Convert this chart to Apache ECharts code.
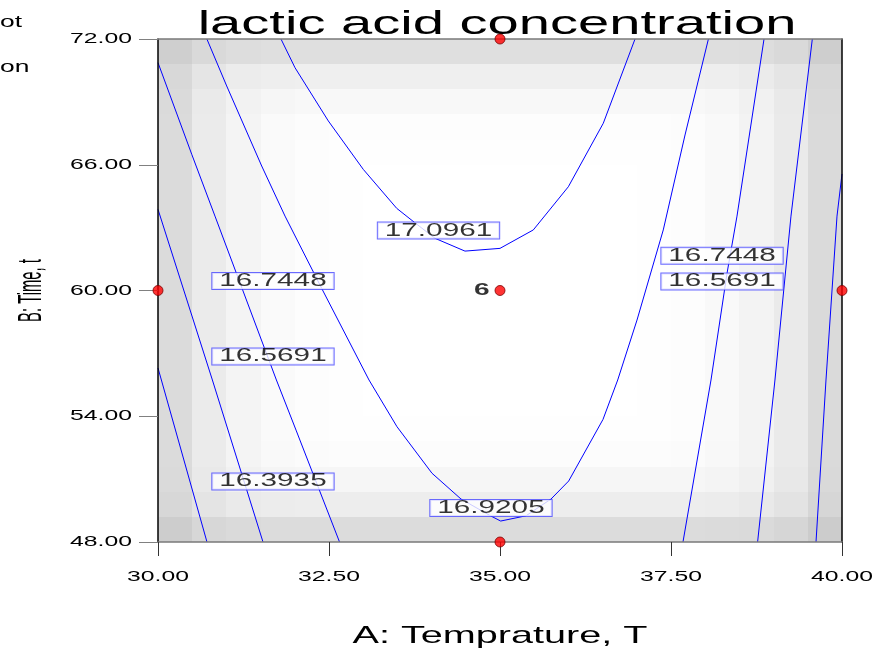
<!DOCTYPE html>
<html>
<head>
<meta charset="utf-8">
<title>lactic acid concentration</title>
<style>
  html, body { margin: 0; padding: 0; background: #ffffff; }
  #chart { width: 876px; height: 649px; }
</style>
<script>
// The reference uses a horizontally wide raster font (and a very condensed one for the Y title).
// Stretch canvas text around its anchor, and report the same width to the layout engine.
(function () {
  var P = CanvasRenderingContext2D.prototype;
  var rawFill = P.fillText, rawMeasure = P.measureText;
  var SPECIAL = { 33: 0.45 };
  function factor(ctx) {
    var m = /(\d+(?:\.\d+)?)px/.exec(ctx.font || '');
    var s = m ? parseFloat(m[1]) : 0;
    return SPECIAL[s] || 1.65;
  }
  P.fillText = function (t, x, y) {
    var f = factor(this);
    this.save(); this.translate(x, y); this.scale(f, 1);
    rawFill.call(this, t, 0, 0);
    this.restore();
  };
  P.measureText = function (t) {
    var r = rawMeasure.call(this, t), f = factor(this);
    return {
      width: r.width * f,
      actualBoundingBoxAscent: r.actualBoundingBoxAscent,
      actualBoundingBoxDescent: r.actualBoundingBoxDescent,
      actualBoundingBoxLeft: r.actualBoundingBoxLeft * f,
      actualBoundingBoxRight: r.actualBoundingBoxRight * f,
      fontBoundingBoxAscent: r.fontBoundingBoxAscent,
      fontBoundingBoxDescent: r.fontBoundingBoxDescent
    };
  };
})();
</script>
<script src="https://cdn.jsdelivr.net/npm/echarts@6.0.0/dist/echarts.min.js"></script>
</head>
<body>
<div id="chart"></div>
<script>
// ---------------- data ----------------
var titleText = 'lactic acid concentration';
var xAxisName = 'A: Temprature, T';
var yAxisName = 'B: Time, t';
var xRange = [30, 40];
var yRange = [48, 72];
var xTickStep = 2.5;
var yTickStep = 6;

// contour lines, [A, B] pairs
var contour17_0961 = [[31.798,72.00],[32.003,70.63],[32.490,68.09],[33.001,65.78],[33.490,63.92],[33.757,63.23],[34.050,62.49],[34.488,61.88],[35.000,62.01],[35.487,62.89],[35.999,64.95],[36.510,67.98],[36.974,72.00]];
var contour16_9205 = [[30.715,72.00],[31.004,69.76],[31.516,65.94],[31.857,63.55],[32.398,60.07],[33.085,55.73],[33.494,53.50],[34.006,51.28],[34.430,50.05],[34.861,49.25],[35.010,49.00],[35.380,49.25],[35.746,50.05],[36.004,50.91],[36.506,53.85],[36.721,55.73],[37.003,58.59],[37.387,62.89],[37.705,67.42],[38.047,72.00]];
var contour16_7448_left = [[30.000,70.87],[30.493,66.50],[30.833,63.55],[31.731,55.73],[32.018,53.34],[32.654,48.00]];
var contour16_5691_left = [[30.000,63.87],[30.795,55.73],[31.535,48.00]];
var contour16_3935_left = [[30.000,56.30],[30.716,48.00]];
var contour16_7448_right = [[38.860,72.00],[38.465,63.55],[38.319,60.82],[38.085,55.73],[37.675,48.00]];
var contour16_5691_right = [[39.566,72.00],[39.254,63.55],[39.020,55.73],[38.766,48.00]];
var contour16_3935_right = [[40.000,65.56],[39.927,63.55],[39.766,55.73],[39.620,48.00]];

// contour labels
var labelText = ['17.0961','16.7448','16.5691','16.3935','16.9205','16.7448','16.5691'];
var labelA    = [34.101, 31.681, 31.681, 31.681, 34.868, 38.246, 38.246];
var labelB    = [62.86, 60.45, 56.85, 50.89, 49.62, 61.66, 60.43];

// design points
var pointA = [30, 35, 35, 40, 35];
var pointB = [60, 72, 60, 60, 48];
var pointCount = ['', '', '6', '', ''];

// background shading (grey level per cell, 20 rows top->bottom, 20 columns left->right)
var shadeRows = [
 [207,217,221,223,223,223,223,223,223,223,223,223,223,223,223,223,222,221,217,206],
 [216,229,236,238,239,239,239,239,239,239,239,239,239,239,239,239,238,235,229,215],
 [218,234,242,246,248,248,248,248,248,248,248,248,248,248,248,248,246,241,233,217],
 [219,235,244,250,252,253,253,253,253,253,253,253,253,253,253,252,249,243,234,218],
 [219,235,244,250,253,254,254,254,254,254,254,254,254,254,254,253,249,243,234,218],
 [219,235,244,250,253,254,255,255,255,255,255,255,255,255,254,253,249,243,234,218],
 [219,235,244,250,253,254,255,255,255,255,255,255,255,255,254,253,249,243,234,218],
 [219,235,244,250,253,254,255,255,255,255,255,255,255,255,254,253,249,243,234,218],
 [219,235,244,250,253,254,255,255,255,255,255,255,255,255,254,253,249,243,234,218],
 [219,235,244,250,253,254,255,255,255,255,255,255,255,255,254,253,249,243,234,218],
 [219,235,244,250,253,254,255,255,255,255,255,255,255,255,254,253,249,243,234,218],
 [219,235,244,250,253,254,255,255,255,255,255,255,255,255,254,253,249,243,234,218],
 [219,235,244,250,253,254,255,255,255,255,255,255,255,255,254,253,249,243,234,218],
 [219,235,244,250,253,254,255,255,255,255,255,255,255,255,254,253,249,243,234,218],
 [219,235,244,250,253,254,255,255,255,255,255,255,255,255,254,253,249,243,234,218],
 [219,235,244,250,253,254,254,254,254,254,254,254,254,254,254,253,249,243,234,218],
 [219,235,244,249,251,252,252,252,252,252,252,252,252,252,252,251,248,243,234,218],
 [218,233,241,245,246,246,246,246,246,246,246,246,246,246,246,246,244,240,232,217],
 [215,228,234,236,237,237,237,237,237,237,237,237,237,237,237,237,236,233,227,214],
 [205,215,218,220,220,220,220,220,220,220,220,220,220,220,220,220,219,218,214,204]
];
var cornerTexts = ['ot', 'on'];

// ---------------- chart ----------------
var FONT = "'Liberation Sans', Arial, sans-serif";
var nCols = shadeRows[0].length, nRows = shadeRows.length;
var cellW = (xRange[1] - xRange[0]) / nCols;
var cellH = (yRange[1] - yRange[0]) / nRows;

var shadeData = [];
shadeRows.forEach(function (row, r) {
  row.forEach(function (g, c) {
    shadeData.push([xRange[0] + (c + 0.5) * cellW, yRange[1] - (r + 0.5) * cellH, g]);
  });
});

function contourSeries(data) {
  return {
    type: 'line', data: data, z: 5, silent: true,
    showSymbol: false, symbol: 'none', smooth: false,
    lineStyle: { color: '#0000ff', width: 1 }
  };
}

var chart = echarts.init(document.getElementById('chart'), null, { renderer: 'canvas', width: 876, height: 649 });

var option = {
  animation: false,
  backgroundColor: '#ffffff',
  title: {
    text: titleText, left: 497, top: -3, textAlign: 'center', padding: 0,
    textStyle: { fontFamily: FONT, fontSize: 34, fontWeight: 'normal', color: '#000000' }
  },
  graphic: [
    { type: 'text', left: 0, top: 9, silent: true, style: { text: cornerTexts[0], font: "16px 'Liberation Sans'", fill: '#000' } },
    { type: 'text', left: 0, top: 54, silent: true, style: { text: cornerTexts[1], font: "16px 'Liberation Sans'", fill: '#000' } }
  ],
  grid: { left: 158, right: 34, top: 39, bottom: 107, show: false, containLabel: false, outerBoundsMode: 'none' },
  xAxis: [{
    type: 'value', min: xRange[0], max: xRange[1], interval: xTickStep, position: 'bottom', z: 10,
    name: xAxisName, nameLocation: 'middle', nameGap: 75,
    nameTextStyle: { fontFamily: FONT, fontSize: 24, color: '#000' },
    axisLine: { show: true, onZero: false, lineStyle: { color: '#7a7a7a', width: 1.5 } },
    axisTick: { show: true, inside: false, length: 14, lineStyle: { color: '#333333', width: 1 } },
    axisLabel: { margin: 22, fontFamily: FONT, fontSize: 15, color: '#000',
      formatter: function (v) { return v.toFixed(2); } },
    splitLine: { show: false }
  }, {
    type: 'value', min: xRange[0], max: xRange[1], position: 'top', z: 10,
    axisLine: { show: true, onZero: false, lineStyle: { color: '#7a7a7a', width: 1.5 } },
    axisTick: { show: false }, axisLabel: { show: false }, splitLine: { show: false }
  }],
  yAxis: [{
    type: 'value', min: yRange[0], max: yRange[1], interval: yTickStep, position: 'left', z: 10,
    name: yAxisName, nameLocation: 'middle', nameGap: 119,
    nameTextStyle: { fontFamily: FONT, fontSize: 33, color: '#000' },
    axisLine: { show: true, onZero: false, lineStyle: { color: '#000000', width: 1.5 } },
    axisTick: { show: true, inside: false, length: 19, lineStyle: { color: '#808080', width: 1 } },
    axisLabel: { margin: 26, fontFamily: FONT, fontSize: 15, color: '#000',
      formatter: function (v) { return v.toFixed(2); } },
    splitLine: { show: false }
  }, {
    type: 'value', min: yRange[0], max: yRange[1], position: 'right', z: 10,
    axisLine: { show: true, onZero: false, lineStyle: { color: '#000000', width: 1.5 } },
    axisTick: { show: false }, axisLabel: { show: false }, splitLine: { show: false }
  }],
  series: [
    {
      type: 'custom', z: 1, silent: true, data: shadeData,
      renderItem: function (params, api) {
        var xc = api.value(0), yc = api.value(1), g = api.value(2);
        var p0 = api.coord([xc - cellW / 2, yc + cellH / 2]);
        var p1 = api.coord([xc + cellW / 2, yc - cellH / 2]);
        var x = Math.round(p0[0]), y = Math.round(p0[1]);
        return {
          type: 'rect',
          shape: { x: x, y: y, width: Math.round(p1[0]) - x, height: Math.round(p1[1]) - y },
          style: { fill: 'rgb(' + g + ',' + g + ',' + g + ')' }
        };
      }
    },
    contourSeries(contour17_0961),
    contourSeries(contour16_9205),
    contourSeries(contour16_7448_left),
    contourSeries(contour16_5691_left),
    contourSeries(contour16_3935_left),
    contourSeries(contour16_7448_right),
    contourSeries(contour16_5691_right),
    contourSeries(contour16_3935_right),
    {
      type: 'scatter', z: 15, silent: true, clip: false,
      symbol: 'circle', symbolSize: 1, itemStyle: { color: 'rgba(0,0,0,0)' },
      data: labelText.map(function (t, i) { return { value: [labelA[i], labelB[i]], name: t }; }),
      label: {
        show: true, position: 'inside', formatter: '{b}',
        fontFamily: FONT, fontSize: 18, color: '#000', lineHeight: 14,
        backgroundColor: '#ffffff', borderColor: '#4646ff', borderWidth: 1, padding: [1, 7, 1, 7]
      }
    },
    {
      type: 'scatter', z: 20, silent: true, clip: false,
      symbol: 'circle', symbolSize: 10,
      itemStyle: { color: '#ff0000', borderColor: '#7a0000', borderWidth: 1 },
      data: pointA.map(function (a, i) {
        return {
          value: [a, pointB[i]],
          label: { show: pointCount[i] !== '', formatter: pointCount[i], position: 'left', distance: 5,
            fontFamily: FONT, fontSize: 17, fontWeight: 'bold', color: '#000' }
        };
      })
    }
  ]
};
chart.setOption(option);
</script>
</body>
</html>
